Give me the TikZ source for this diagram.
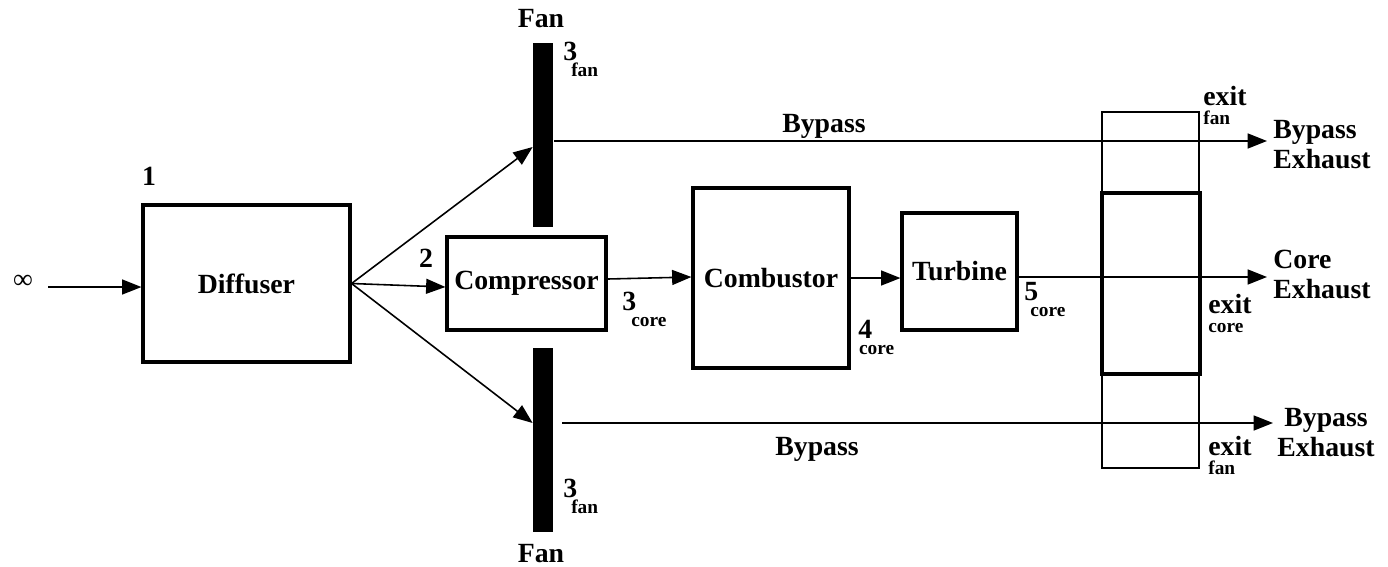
\documentclass[tikz,border=0pt]{standalone}
\usepackage{fontspec}
\setmainfont{Liberation Serif}
\usetikzlibrary{arrows.meta,calc}

\newcommand{\mainsize}{\fontsize{15.8}{17}\selectfont}
\newcommand{\subf}{\fontsize{11}{12}\selectfont}
\newcommand{\stn}[3][-3pt]{#2\kern#1\raisebox{-9.5pt}{\subf #3}}
\newcommand{\exitlab}[1]{\rlap{\raisebox{-11pt}{\subf #1}}exit}

\begin{document}
\begin{tikzpicture}[x=0.02cm, y=-0.02cm,
    blk/.style={rectangle, draw=black, line width=1.8pt, inner sep=0pt, font=\bfseries\mainsize},
    fanbar/.style={rectangle, fill=black, inner sep=0pt, minimum width=0.4cm, minimum height=3.68cm},
    arrow/.style={-{Triangle[length=11pt,width=8.5pt]}, line width=0.9pt},
    lab/.style={inner sep=0pt, font=\bfseries\mainsize}
  ]
    \useasboundingbox (0,0) rectangle (1388,566);

    \node[blk, minimum width=4.14cm, minimum height=3.14cm] (diff) at (246.5,283.5) {Diffuser};
    \node[blk, minimum width=3.18cm, minimum height=1.86cm] (comp) at (526.5,283.5) {Compressor};
    \node[blk, minimum width=3.12cm, minimum height=3.6cm]  (comb) at (771,278) {Combustor};
    \node[blk, minimum width=2.3cm, minimum height=2.34cm]  (turb) at (959.5,271.5) {Turbine};
    \node[fanbar] (fantop) at (543,135) {};
    \node[fanbar] (fanbot) at (543,440) {};
    \node[rectangle, draw, line width=0.9pt, minimum width=1.94cm, minimum height=7.12cm] (exitfan) at (1150.5,290) {};
    \node[blk, minimum width=1.96cm, minimum height=3.62cm] (exitcore) at (1151,283.5) {};

    % station labels
    \node[inner sep=0pt, font=\mainsize] (inf) at (23,282) {∞};
    \node[lab, anchor=base] (st1) at (149,185) {1};
    \node[lab, anchor=base] (st2) at (426,267) {2};
    \node[lab, anchor=base] (fanlabtop) at (541,27) {Fan};
    \node[lab, anchor=base] (fanlabbot) at (541,562) {Fan};
    \node[lab, anchor=base west] (st3top) at (563,60) {\stn[-3.4pt]{3}{fan}};
    \node[lab, anchor=base west] (st3bot) at (563,497) {\stn[-3.4pt]{3}{fan}};
    \node[lab, anchor=base west] (st3core) at (622,310) {\stn[-2.8pt]{3}{core}};
    \node[lab, anchor=base west] (st4core) at (858,338) {\stn[-7.5pt]{4}{core}};
    \node[lab, anchor=base west] (st5core) at (1024,300) {\stn[-4.5pt]{5}{core}};
    \node[lab, anchor=base] (bptop) at (824,132) {Bypass};
    \node[lab, anchor=base] (bpbot) at (817,455) {Bypass};
    \node[lab, anchor=base west] (exittop) at (1203,105) {\exitlab{fan}};
    \node[lab, anchor=base west] (exitmid) at (1208,313) {\exitlab{core}};
    \node[lab, anchor=base west] (exitbot) at (1208,455) {\exitlab{fan}};
    \node[lab, anchor=north west, align=left] (exhtop) at (1273,120) {Bypass\\Exhaust};
    \node[lab, anchor=north west, align=left] (exhcore) at (1273,250) {Core\\Exhaust};
    \node[lab, anchor=north, align=center] (exhbot) at (1326,408) {Bypass\\Exhaust};

    \coordinate (inflow) at (48,287);
    \coordinate (bptopend) at (1267,141);
    \coordinate (coreend) at (1267,277);
    \coordinate (bpbotend) at (1273,423);

    \draw[arrow] (inflow) -- (inflow -| diff.west);
    \draw[arrow] (diff.east) -- ($(fantop.west)+(0,12)$);
    \draw[arrow] (diff.east) -- ($(comp.west)+(0,3.5)$);
    \draw[arrow] (diff.east) -- ($(fanbot.west)+(0,-17)$);
    \draw[arrow] ($(fantop.east)+(1,6)$) -- (bptopend);
    \draw[arrow] ($(fanbot.east)+(9,-17)$) -- (bpbotend);
    \draw[arrow] ($(comp.east)+(0,-4.5)$) -- ($(comb.west)+(0,-1)$);
    \draw[arrow] (comb.east) -- (comb.east -| turb.west);
    \draw[arrow] (coreend -| turb.east) -- (coreend);
\end{tikzpicture}
\end{document}
